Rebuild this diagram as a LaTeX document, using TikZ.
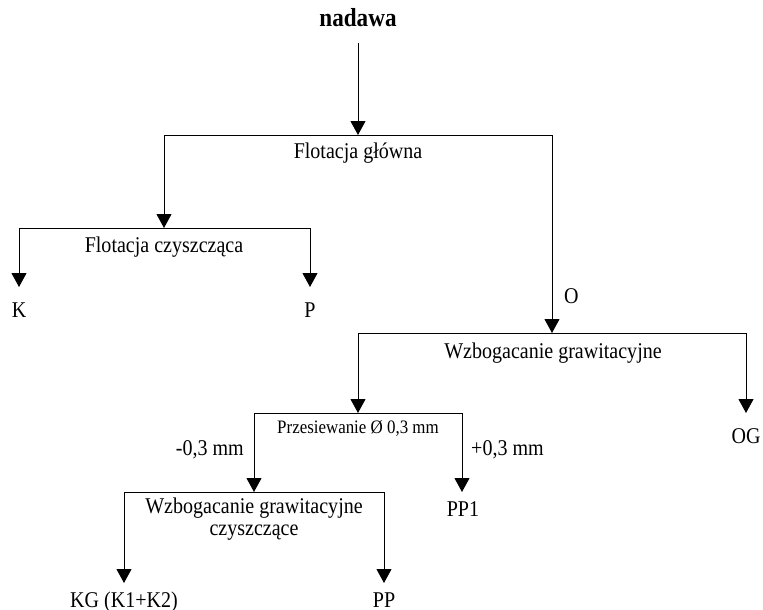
\documentclass[tikz,border=0pt]{standalone}
\usepackage{fontspec}
\setmainfont[FakeStretch=0.89]{Liberation Serif}
\usetikzlibrary{arrows.meta}
\begin{document}
\begin{tikzpicture}[x=1pt,y=-1pt,
  flow/.style={line width=1pt, draw=black},
  arr/.style={flow, -{Triangle[width=15pt,length=14pt]}},
  lbl/.style={inner sep=0pt, anchor=base, font=\fontsize{22.5}{26}\selectfont},
  small/.style={lbl, font=\fontsize{19}{22}\selectfont},
  title/.style={lbl, font=\fontsize{26}{30}\selectfont\bfseries}]
\useasboundingbox (0,0) rectangle (763,610);

% feed
\node[title] (nadawa) at (358,27) {nadawa};
\coordinate (feed) at (358,43);

% main flotation
\coordinate (fgTop) at (358,135);
\coordinate (fgL) at (164,135);
\coordinate (fgR) at (552,135);
\node[lbl] (fg) at (358,158) {Flotacja główna};
\draw[arr] (feed) -- (fgTop);
\draw[flow] (fgL) -- (fgR);

% cleaner flotation
\coordinate (fcTop) at (164,228);
\coordinate (fcL) at (19,228);
\coordinate (fcR) at (310,228);
\coordinate (kTip) at (19,287);
\coordinate (pTip) at (310,287);
\node[lbl] (fc) at (164,252) {Flotacja czyszcząca};
\draw[arr] (fgL) -- (fcTop);
\draw[flow] (fcL) -- (fcR);
\draw[arr] (fcL) -- (kTip);
\draw[arr] (fcR) -- (pTip);
\node[lbl] (K) at (19,317) {K};
\node[lbl] (P) at (310,317) {P};

% tailings to gravity concentration
\coordinate (wgTop) at (552,333);
\coordinate (wgL) at (358,333);
\coordinate (wgR) at (746,333);
\draw[arr] (fgR) -- (wgTop);
\node[lbl, anchor=base west] (O) at (564,303) {O};
\draw[flow] (wgL) -- (wgR);
\node[lbl] (wg) at (553,358) {Wzbogacanie grawitacyjne};
\coordinate (ogTip) at (746,413);
\draw[arr] (wgR) -- (ogTip);
\node[lbl] (OG) at (746,443) {OG};

% screening
\coordinate (prTop) at (358,413);
\coordinate (prL) at (254,413);
\coordinate (prR) at (462,413);
\draw[arr] (wgL) -- (prTop);
\draw[flow] (prL) -- (prR);
\node[small] (pr) at (358,433) {Przesiewanie Ø 0,3 mm};
\node[lbl, anchor=base east] (minus) at (244,455) {-0,3 mm};
\node[lbl, anchor=base west] (plus) at (471,455) {+0,3 mm};
\coordinate (wgcTop) at (254,492);
\coordinate (pp1Tip) at (462,492);
\draw[arr] (prL) -- (wgcTop);
\draw[arr] (prR) -- (pp1Tip);
\node[lbl] (PP1) at (463,516) {PP1};

% cleaner gravity concentration
\coordinate (wgcL) at (124,492);
\coordinate (wgcR) at (384,492);
\draw[flow] (wgcL) -- (wgcR);
\node[lbl] (wgc1) at (254,513) {Wzbogacanie grawitacyjne};
\node[lbl] (wgc2) at (254,535) {czyszczące};
\coordinate (kgTip) at (124,583);
\coordinate (ppTip) at (384,583);
\draw[arr] (wgcL) -- (kgTip);
\draw[arr] (wgcR) -- (ppTip);
\node[lbl] (KG) at (124,607) {KG (K1+K2)};
\node[lbl] (PP) at (384,607) {PP};
\end{tikzpicture}
\end{document}
